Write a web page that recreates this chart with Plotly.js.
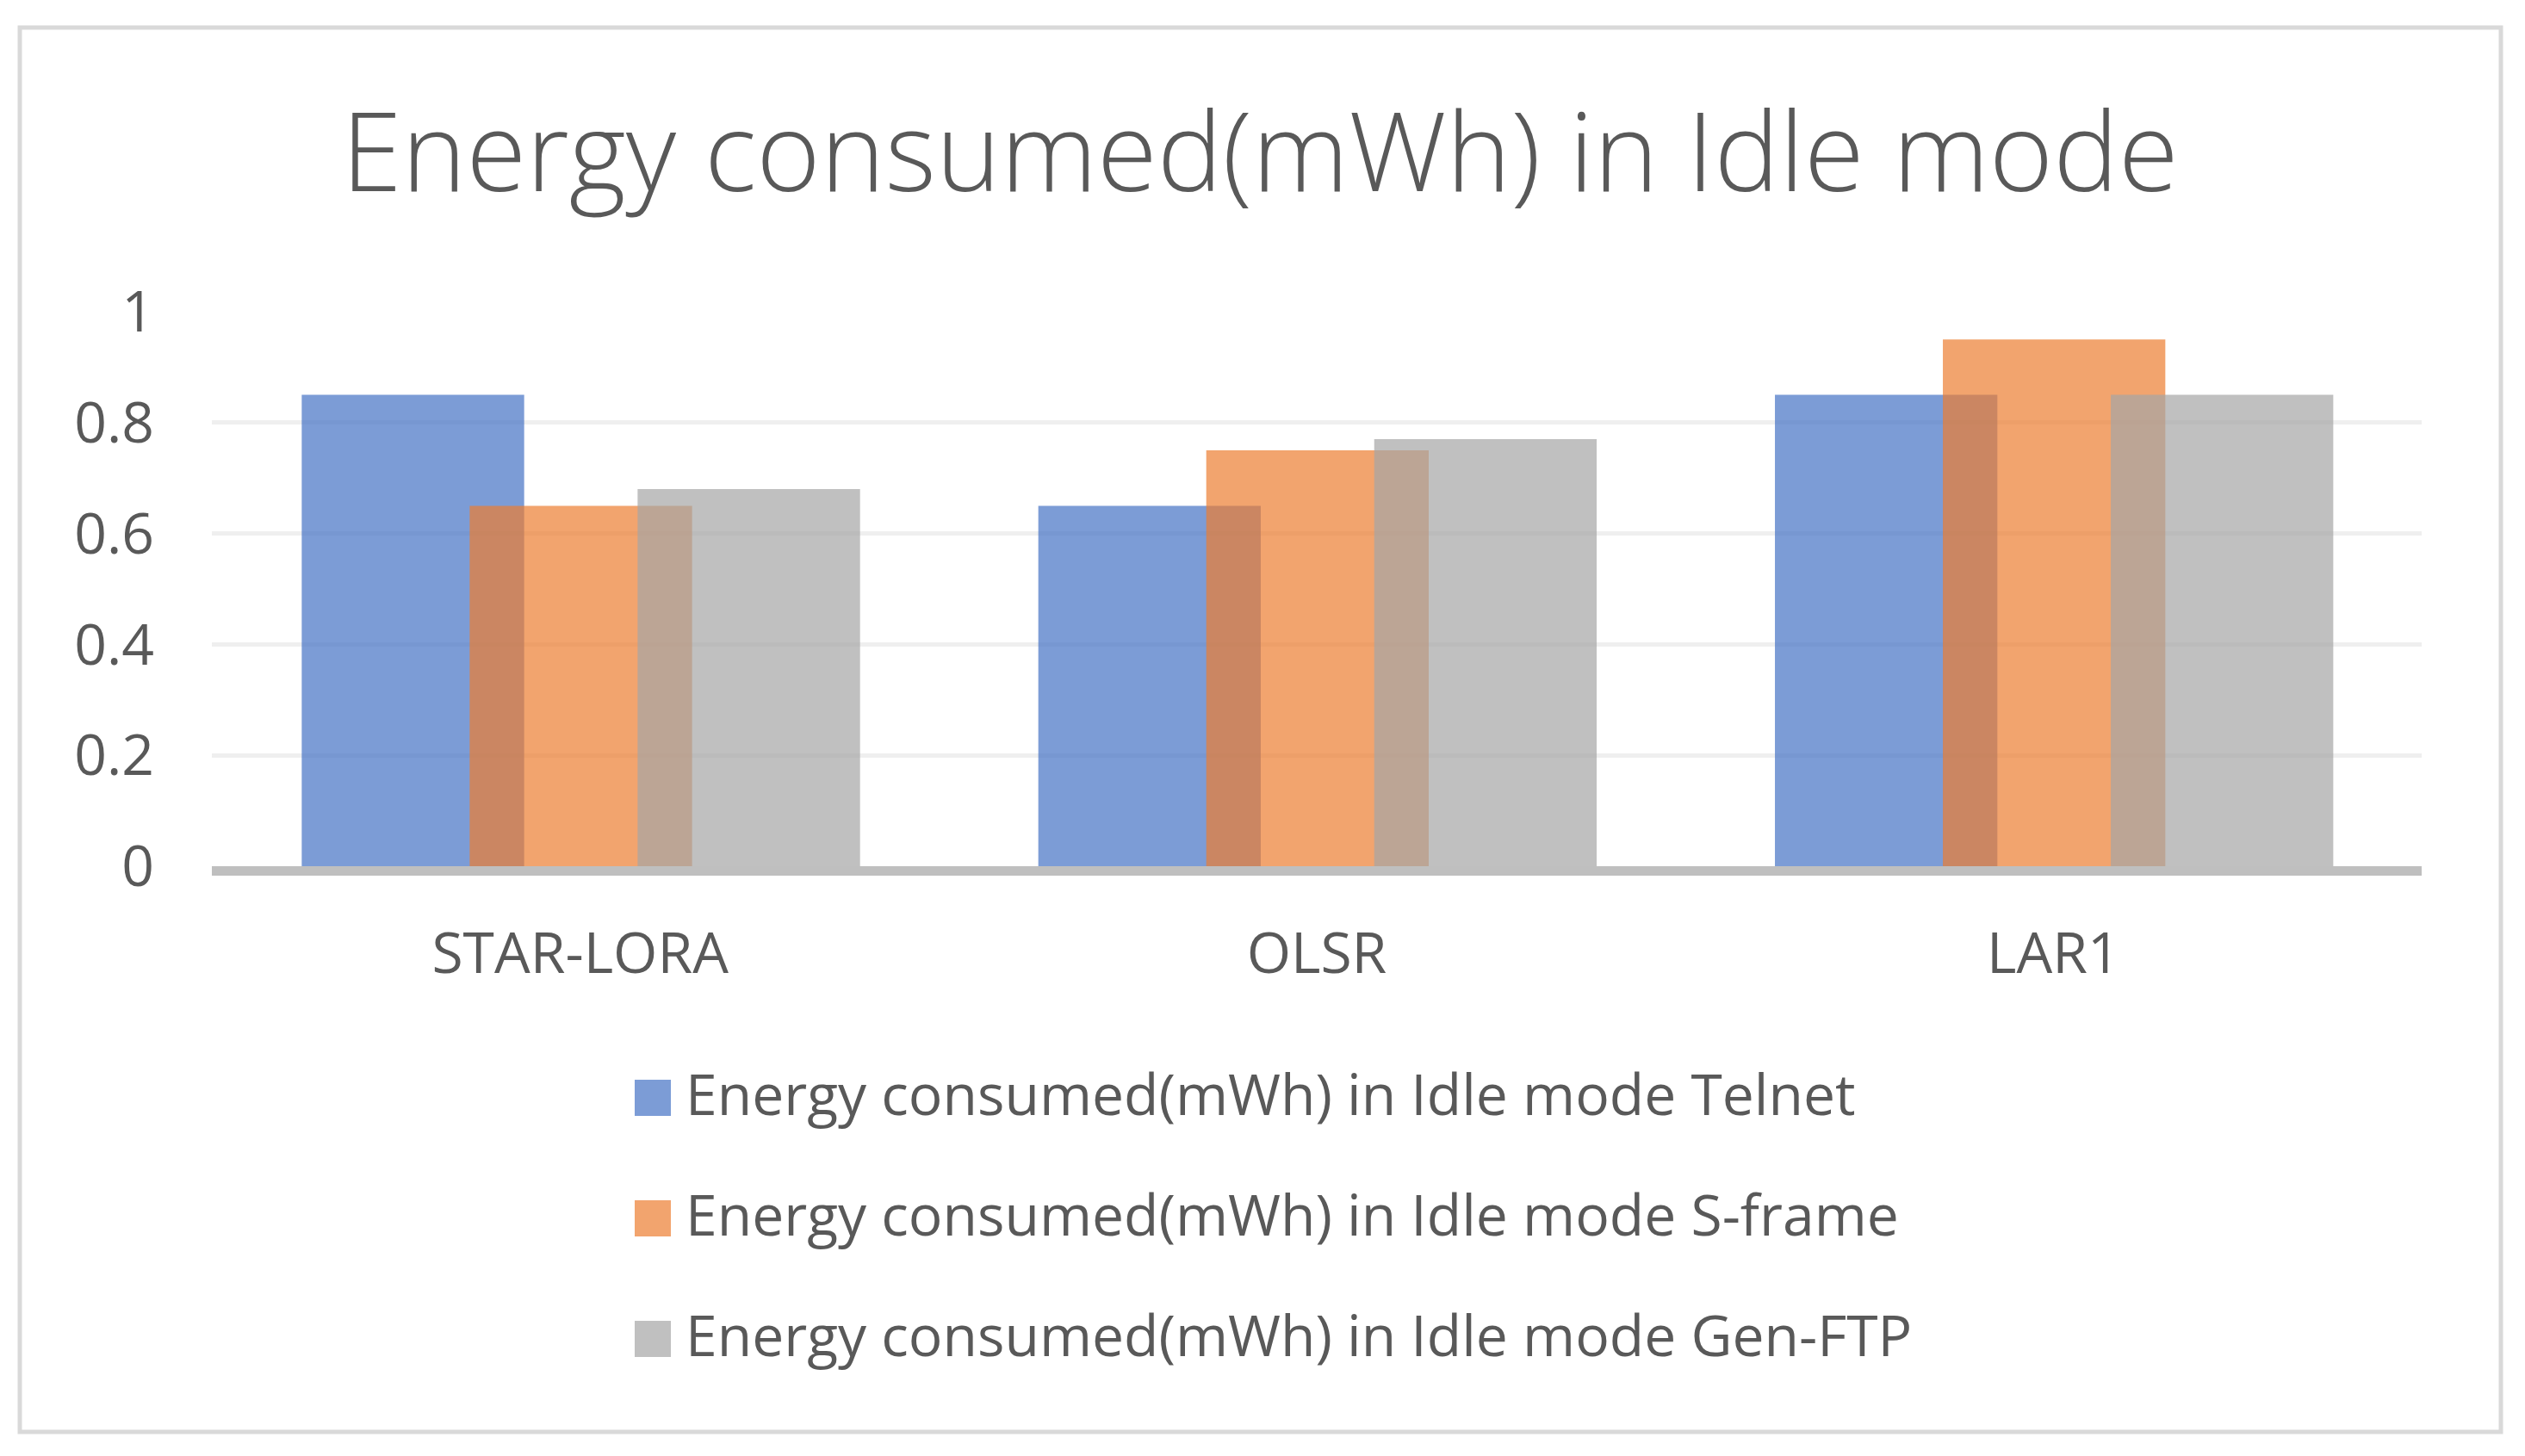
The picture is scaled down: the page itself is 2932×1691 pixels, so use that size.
<!DOCTYPE html>
<html><head><meta charset="utf-8">
<script src="https://cdn.plot.ly/plotly-3.0.1.min.js"></script>
<style>html,body{margin:0;padding:0;background:#fff}#chart{width:2932px;height:1691px}</style>
</head><body><div id="chart"></div>
<script>
// ---- data ----
const categories = ['STAR-LORA', 'OLSR', 'LAR1'];
const telnet = [0.85, 0.65, 0.85];
const sframe = [0.65, 0.75, 0.95];
const genftp = [0.68, 0.77, 0.85];
const seriesNames = [
  'Energy consumed(mWh) in Idle mode Telnet',
  'Energy consumed(mWh) in Idle mode S-frame',
  'Energy consumed(mWh) in Idle mode Gen-FTP'
];
const yTickVals = [0, 0.2, 0.4, 0.6, 0.8, 1];
const yTickText = ['0', '0.2', '0.4', '0.6', '0.8', '1'];
const titleText = 'Energy consumed(mWh) in Idle mode';

// ---- layout geometry (pixels) ----
const W = 2932, H = 1691, L = 246, R = 2812, T = 362, B = 1006;
const px = x => (x - L) / (R - L);
const py = y => (B - y) / (B - T);
const FONT = '"Open Sans", "DejaVu Sans", sans-serif';
const TXT = '#595959';
const colors = ['rgba(68,114,196,0.7)', 'rgba(237,125,49,0.7)', 'rgba(165,165,165,0.7)'];
const offsets = [-0.378, -0.150, 0.078];
const values = [telnet, sframe, genftp];

const traces = values.map((v, i) => ({
  type: 'bar', x: categories, y: v, name: seriesNames[i],
  width: 0.302, offset: offsets[i],
  marker: {color: colors[i], line: {width: 0}},
  showlegend: false, hoverinfo: 'x+y+name'
}));

const shapes = [{
  type: 'rect', xref: 'paper', yref: 'paper',
  x0: px(23), x1: px(2904), y0: py(32), y1: py(1663),
  line: {color: '#d9d9d9', width: 5}, fillcolor: 'rgba(0,0,0,0)', layer: 'below'
}];
const annotations = [];
const legendRowY = [1275, 1415, 1555];
seriesNames.forEach((n, i) => {
  const cy = legendRowY[i];
  shapes.push({
    type: 'rect', xref: 'paper', yref: 'paper',
    x0: px(737), x1: px(779), y0: py(cy - 21), y1: py(cy + 21),
    line: {width: 0}, fillcolor: colors[i]
  });
  annotations.push({
    xref: 'paper', yref: 'paper', x: px(794), y: py(cy - 6), xanchor: 'left', yanchor: 'middle',
    text: n, showarrow: false, font: {family: FONT, size: 66, color: TXT}
  });
});

const layout = {
  width: W, height: H,
  margin: {l: L, r: W - R, t: T, b: H - B, pad: 0},
  paper_bgcolor: '#ffffff', plot_bgcolor: '#ffffff',
  barmode: 'overlay',
  title: {
    text: titleText, xref: 'container', yref: 'container', x: 0.499, xanchor: 'center',
    y: 1 - 178 / H, yanchor: 'middle',
    font: {family: FONT, size: 127, color: TXT, weight: 300}
  },
  font: {family: FONT, color: TXT},
  xaxis: {
    type: 'category', range: [-0.5, 2.5], showgrid: false, zeroline: false,
    showline: true, linecolor: '#bfbfbf', linewidth: 11, ticks: '',
    tickfont: {family: FONT, size: 66, color: TXT}, ticklabelstandoff: 34,
    fixedrange: true
  },
  yaxis: {
    range: [0, 1], tickmode: 'array', tickvals: yTickVals, ticktext: yTickText,
    showgrid: true, gridcolor: '#efefef', gridwidth: 5, zeroline: false, showline: false,
    ticks: '', tickfont: {family: FONT, size: 66, color: TXT}, ticklabelstandoff: 66,
    fixedrange: true
  },
  shapes: shapes, annotations: annotations, showlegend: false
};

Plotly.newPlot('chart', traces, layout, {staticPlot: true, displayModeBar: false});
</script>
</body></html>
